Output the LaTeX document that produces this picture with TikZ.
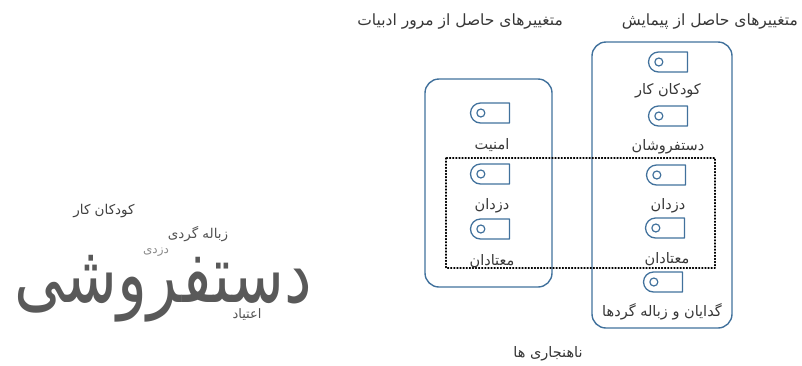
\documentclass[tikz,border=0pt]{standalone}
\usepackage{fontspec}
\usetikzlibrary{shapes.misc}
\newfontfamily\farsi[Script=Arabic]{DejaVu Sans}
\TeXXeTstate=1
\definecolor{boxblue}{RGB}{65,113,156}
\definecolor{txtgray}{RGB}{55,55,55}
\newcommand\fa[1]{\beginR #1\endR}
\begin{document}
\begin{tikzpicture}[x=1pt,y=-1pt,line join=round,line cap=round,
  lbl/.style={font=\farsi\fontsize{14.5}{16}\selectfont,text=txtgray,inner sep=1pt},
  head/.style={font=\farsi\fontsize{15.5}{17}\selectfont,text=txtgray,inner sep=1pt},
  grp/.style={draw=boxblue,line width=1.4pt,rounded corners=14pt},
  cloud/.style={font=\farsi\fontsize{#1}{#1}\selectfont,inner sep=0pt},
  tagicon/.pic={
    \node[draw=boxblue,line width=1.3pt,rounded rectangle,rounded rectangle right arc=none,
          minimum width=39pt,minimum height=20pt,inner sep=0pt] (-body) {};
    \draw[boxblue,line width=1.2pt] ([xshift=11pt]-body.west) circle (4pt);
  }]
\useasboundingbox (0,0) rectangle (802,365);
% headers
\node[head,anchor=east] (hSurvey) at (799,21) {\fa{متغییرهای حاصل از پیمایش}};
\node[head,anchor=east] (hLit) at (564,21) {\fa{متغییرهای حاصل از مرور ادبیات}};
% groups
\draw[grp] (592,42) rectangle (732,328);
\draw[grp] (425,79) rectangle (552,287);
\draw[dotted,line width=1.1pt] (446,158) rectangle (715,268);
% survey column
\pic (icR1) at (668,62) {tagicon};
\node[lbl] (kar) at (668,91) {\fa{کودکان کار}};
\pic (icR2) at (668,116) {tagicon};
\node[lbl] (forush) at (668,147) {\fa{دستفروشان}};
\pic (icR3) at (666,175) {tagicon};
\node[lbl] (dozdR) at (668,206) {\fa{دزدان}};
\pic (icR4) at (665,228) {tagicon};
\node[lbl] (motadR) at (667,259) {\fa{معتادان}};
\pic (icR5) at (663,282) {tagicon};
\node[lbl] (gedaR) at (662,312) {\fa{گدایان و زباله گردها}};
% literature column
\pic (icL1) at (490,113) {tagicon};
\node[lbl] (amniat) at (492,145) {\fa{امنیت}};
\pic (icL2) at (490,174) {tagicon};
\node[lbl] (dozdL) at (492,206) {\fa{دزدان}};
\pic (icL3) at (490,229) {tagicon};
\node[lbl] (motadL) at (492,261) {\fa{معتادان}};
\node[lbl] (nahanjar) at (548,354) {\fa{ناهنجاری ها}};
% word cloud
\node[cloud=13.5,text=black!75] (wKar) at (104,211) {\fa{کودکان کار}};
\node[cloud=13.5,text=black!68] (wZobale) at (198,234) {\fa{زباله گردی}};
\node[cloud=12,text=black!45] (wDozdi) at (156,252) {\fa{دزدی}};
\node[cloud=62,text=black!65,yscale=1.3,transform shape] (wForush) at (163,289) {\fa{دستفروشی}};
\node[cloud=13,text=black!68] (wEtiad) at (247,315) {\fa{اعتیاد}};
\end{tikzpicture}
\end{document}
